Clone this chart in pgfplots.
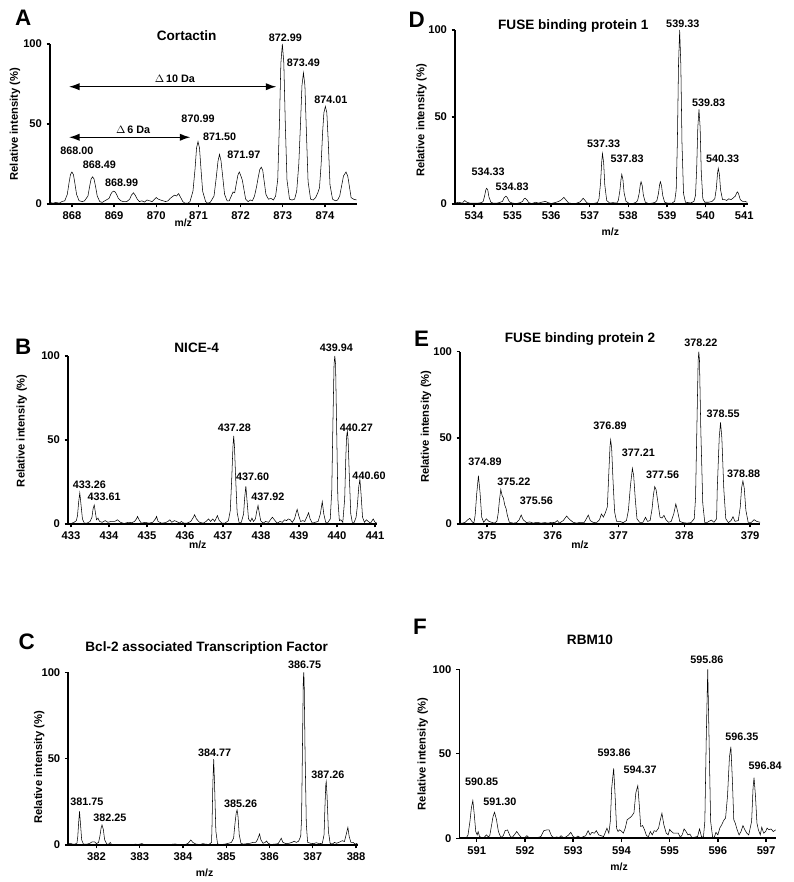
\documentclass[border=0pt]{standalone}
\usepackage{fontspec}
\setmainfont{Liberation Sans}
\usepackage{pgfplots}
\pgfplotsset{compat=1.18}
\usetikzlibrary{arrows.meta}
\pgfplotsset{
  spec/.style={
    scale only axis, anchor=south west,
    axis lines*=left, axis line style={line width=1.2pt},
    tick align=outside, tick pos=left, major tick length=2.5pt,
    tick style={line width=1pt, black},
    ymin=0, ymax=100, ytick={0,50,100},
    tick label style={font=\fontsize{8.4}{9}\selectfont\bfseries},
    /pgf/number format/assume math mode=true,
    ylabel={Relative intensity (\%)}, xlabel={m/z},
    ylabel style={font=\fontsize{8.4}{9}\selectfont\bfseries, anchor=center},
    xlabel style={font=\fontsize{7.8}{8}\selectfont\bfseries, anchor=center},
    clip=false,
    cycle list={{black, line width=1.1pt, mark=none, line join=round}},
  },
}
\tikzset{pl/.style={font=\fontsize{8.1}{9}\selectfont\bfseries, inner sep=0pt},
  ttl/.style={font=\fontsize{10.2}{11}\selectfont\bfseries, inner sep=0pt},
  let/.style={font=\fontsize{16.8}{17}\selectfont\bfseries, inner sep=0pt}}
\newcommand\PX[2]{({#1*0.75pt},{(882-#2)*0.75pt})}
\begin{document}
\begin{tikzpicture}
\useasboundingbox (0,0) rectangle (594.75pt,661.5pt);
% ---------------- A
\begin{axis}[spec, at={(37.5pt,508.5pt)}, width=230.25pt, height=120pt,
  xmin=867.48, xmax=874.76, xtick={868,869,870,871,872,873,874},
  ylabel style={at={(axis description cs:-0.114,0.5)}},
  xlabel style={at={(axis description cs:0.434,0)}, yshift=-14.25pt}]
\addplot coordinates {(867.48,1) (867.55,0.5) (867.62,1) (867.7,0.5) (867.76,1.5) (867.83,2)
(867.89,6) (867.93,13) (867.965,18.4) (868.0,20) (868.035,18.4) (868.07,13) (868.11,6) (868.17,2)
(868.25,1.5) (868.3,2) (868.38,5) (868.42,11) (868.455,15.6) (868.49,17) (868.525,15.6) (868.56,11) (868.6,5) (868.66,1.5)
(868.72,1) (868.78,2) (868.88,3.5) (868.92,6) (868.955,7.5) (868.99,8) (869.025,7.5) (869.06,6) (869.1,3.5) (869.16,2)
(869.22,1.5) (869.3,1.5) (869.37,3) (869.41,5.5) (869.46,7) (869.5,5.5) (869.55,3) (869.6,1.5)
(869.66,2) (869.72,1.2) (869.78,2.5) (869.84,2) (869.9,1.5) (869.96,3) (870.0,4) (870.05,3) (870.1,2.5) (870.16,2) (870.22,1.5) (870.28,2) (870.33,3.5) (870.38,4.5) (870.43,5.5) (870.48,5) (870.53,6.5) (870.58,4) (870.63,1.5) (870.68,0.5) (870.75,0.5) (870.8,1.5)
(870.87,8) (870.92,22) (870.955,35) (870.99,39) (871.025,35) (871.06,22) (871.1,8) (871.17,1.5) (871.22,0.5) (871.28,1)
(871.37,5) (871.42,16) (871.465,27) (871.5,31) (871.535,27) (871.58,16) (871.62,6) (871.68,2) (871.73,2)
(871.78,5) (871.82,7.5) (871.86,7) (871.9,13) (871.935,18) (871.97,20) (872.0,18) (872.04,15) (872.08,9) (872.12,3) (872.18,1.5) (872.23,2.5) (872.28,2) (872.33,5)
(872.38,11) (872.42,17) (872.455,21.5) (872.49,23) (872.525,21) (872.56,14) (872.6,6) (872.66,3) (872.72,3.5) (872.78,2.5) (872.83,5)
(872.88,15) (872.92,50) (872.955,88) (872.99,100) (873.025,88) (873.06,50) (873.1,15) (873.16,3) (873.22,2.5) (873.28,3) (873.33,8)
(873.38,25) (873.42,50) (873.455,74) (873.49,82) (873.525,74) (873.56,45) (873.6,14) (873.66,3) (873.72,2.5) (873.78,4) (873.83,7) (873.87,10)
(873.91,25) (873.945,45) (873.975,57) (874.01,61) (874.045,57) (874.08,38) (874.12,12) (874.18,3) (874.25,2) (874.3,2.5) (874.35,5)
(874.4,12) (874.44,17.5) (874.5,20) (874.54,17.5) (874.58,11) (874.62,4) (874.68,3) (874.75,2.5)};
\draw[line width=1pt, {Latex[length=8pt,width=5.5pt]}-{Latex[length=8pt,width=5.5pt]}] (867.93,73.3) -- (872.85,73.3);
\draw[line width=1pt, {Latex[length=8pt,width=5.5pt]}-{Latex[length=8pt,width=5.5pt]}] (867.93,41.7) -- (870.81,41.7);
\node[pl] at (870.44,78) {$\Delta$\,10 Da};
\node[pl] at (869.45,46.5) {$\Delta$\,6 Da};
\node[pl] at (868.12,33.3) {868.00};
\node[pl] at (868.65,24.4) {868.49};
\node[pl] at (869.18,13) {868.99};
\node[pl] at (870.99,53) {870.99};
\node[pl] at (871.5,41.7) {871.50};
\node[pl] at (872.08,30.8) {871.97};
\node[pl] at (873.06,104) {872.99};
\node[pl] at (873.49,88.5) {873.49};
\node[pl] at (874.14,65.4) {874.01};
\end{axis}
% ---------------- D
\begin{axis}[spec, at={(341.25pt,508.5pt)}, width=219.75pt, height=130.5pt,
  xmin=533.51, xmax=541.1, xtick={534,535,536,537,538,539,540,541},
  ylabel style={at={(axis description cs:-0.114,0.48)}},
  xlabel style={at={(axis description cs:0.53,0)}, yshift=-20.8pt}]
\addplot coordinates {(533.51,0.5) (533.6,1) (533.7,0.5) (533.76,2) (533.82,1) (533.9,0.5) (534.0,0.5) (534.1,0.5) (534.2,0.8)
(534.24,1.5) (534.28,5) (534.31,8.3) (534.33,9) (534.36,8) (534.39,4) (534.44,1)
(534.5,0.5) (534.6,0.5) (534.68,1) (534.74,1.5) (534.78,3.5) (534.83,4.5) (534.87,3.5) (534.92,1.2)
(535.0,0.5) (535.1,0.3) (535.2,0.8) (535.26,1.5) (535.3,3) (535.33,3.3) (535.37,2.5) (535.42,0.8)
(535.5,0.3) (535.6,1) (535.67,0.5) (535.75,1) (535.85,1.5) (535.92,0.8) (536.0,0.3) (536.1,0.8) (536.2,1.5)
(536.27,2.5) (536.33,3.8) (536.38,2.5) (536.45,0.6) (536.55,0.3) (536.65,0.4) (536.75,1.2)
(536.8,2.5) (536.83,3.3) (536.87,2.3) (536.93,0.6) (537.0,0.4) (537.1,0.3) (537.2,0.8)
(537.24,3) (537.28,12) (537.31,24) (537.33,29) (537.36,24) (537.39,11) (537.44,2)
(537.52,0.5) (537.6,0.8) (537.7,0.5) (537.74,2) (537.78,7.5) (537.81,14) (537.83,17) (537.86,14) (537.89,6.5) (537.94,1.5)
(538.02,0.4) (538.12,0.3) (538.2,1) (538.24,2) (538.28,6) (538.31,11) (538.33,12.8) (538.36,10.5) (538.39,5) (538.44,1)
(538.52,0.3) (538.62,0.5) (538.7,1) (538.74,2) (538.78,6) (538.81,11) (538.83,12.8) (538.86,10.5) (538.89,5) (538.94,1)
(539.02,0.5) (539.12,0.4) (539.2,1.5) (539.24,8) (539.27,35) (539.3,80) (539.33,100) (539.36,80) (539.39,35) (539.43,6) (539.48,1)
(539.55,0.8) (539.62,0.6) (539.7,1.5) (539.74,5) (539.77,20) (539.8,44) (539.83,54.4) (539.86,44) (539.89,18) (539.93,3) (539.98,1)
(540.08,1) (540.17,1.5) (540.24,3) (540.28,9) (540.31,17.5) (540.33,20.5) (540.36,17) (540.39,8) (540.44,2.5)
(540.5,2.5) (540.55,2) (540.6,3) (540.66,2.5) (540.72,3.5) (540.77,4.5) (540.81,6.5) (540.83,7) (540.86,5.5) (540.9,2.5) (540.96,1.5) (541.02,1.5) (541.08,1)};
\node[pl] at (534.37,18.6) {534.33};
\node[pl] at (534.99,10) {534.83};
\node[pl] at (537.36,34.5) {537.33};
\node[pl] at (537.97,25.9) {537.83};
\node[pl] at (539.41,103.3) {539.33};
\node[pl] at (540.08,57.9) {539.83};
\node[pl] at (540.44,25.9) {540.33};
\end{axis}
% ---------------- B
\begin{axis}[spec, at={(51pt,268.5pt)}, width=231.75pt, height=126pt,
  xmin=432.92, xmax=441.05, xtick={433,434,435,436,437,438,439,440,441},
  ylabel style={at={(axis description cs:-0.15,0.555)}},
  xlabel style={at={(axis description cs:0.42,0)}, yshift=-15.75pt}]
\addplot coordinates {(432.92,0.5) (433.0,0.3) (433.08,1) (433.14,2) (433.17,5) (433.2,13) (433.23,18.5) (433.26,12) (433.3,3) (433.35,0.5)
(433.42,0.5) (433.5,1.5) (433.55,4) (433.58,9) (433.61,11.3) (433.64,7) (433.67,2.5) (433.71,3.5) (433.75,1.5) (433.82,1) (433.9,2) (433.97,1) (434.05,1.5) (434.15,1.5) (434.22,2.5) (434.3,1) (434.4,0.3) (434.5,1) (434.6,0.8) (434.67,1.5)
(434.72,3) (434.75,4.5) (434.79,2.5) (434.85,0.5) (434.95,1) (435.05,0.5) (435.15,1)
(435.22,3) (435.25,4.5) (435.29,1.5) (435.38,0.5) (435.48,0.8) (435.55,1.5) (435.6,2.5) (435.65,1) (435.72,2) (435.78,1.5) (435.85,0.5) (435.9,1.5) (435.97,0.5) (436.05,0.5) (436.15,1.5)
(436.22,4) (436.25,5.5) (436.3,3) (436.38,1) (436.48,0.5) (436.55,1.5) (436.62,3) (436.67,1.5) (436.73,3) (436.78,1.5) (436.85,5) (436.9,2) (436.97,0.5) (437.05,0.5) (437.14,2)
(437.19,8) (437.23,28) (437.26,46) (437.28,52.4) (437.3,46) (437.33,28) (437.37,7) (437.42,1) (437.48,1)
(437.54,6) (437.57,16) (437.6,22.6) (437.63,14) (437.67,3) (437.72,1.5) (437.76,3.5) (437.8,1.5) (437.85,3)
(437.89,8) (437.92,11) (437.95,7) (437.99,2) (438.05,0.5) (438.12,1.5) (438.2,1) (438.26,3) (438.3,4) (438.35,2.5) (438.42,0.5) (438.5,1.5) (438.56,1) (438.62,2.5) (438.67,2) (438.72,3) (438.77,2.5) (438.82,1) (438.88,3)
(438.92,6.5) (438.95,8.7) (438.99,5) (439.04,1.5) (439.1,2) (439.15,1.5) (439.2,4) (439.25,6.7) (439.29,3) (439.35,0.5) (439.42,1) (439.5,1.5) (439.56,6)
(439.61,13.3) (439.65,6) (439.7,1) (439.76,1) (439.82,3)
(439.86,20) (439.89,60) (439.92,95) (439.94,100) (439.96,95) (439.99,55) (440.02,15) (440.06,2) (440.1,2.5) (440.15,1)
(440.2,15) (440.23,40) (440.25,52) (440.27,55.4) (440.29,50) (440.32,30) (440.36,6) (440.4,1) (440.45,1) (440.5,4)
(440.53,10) (440.57,22) (440.6,26.6) (440.63,18) (440.67,4) (440.72,1) (440.77,2.5) (440.82,1.5) (440.88,0.5) (440.95,3) (441.0,1) (441.05,0.5)};
\node[pl] at (433.48,23.2) {433.26};
\node[pl] at (433.87,16.3) {433.61};
\node[pl] at (437.30,57) {437.28};
\node[pl] at (437.78,28.2) {437.60};
\node[pl] at (438.18,16.3) {437.92};
\node[pl] at (439.98,105) {439.94};
\node[pl] at (440.51,57.5) {440.27};
\node[pl] at (440.84,28.6) {440.60};
\end{axis}
% ---------------- E
\begin{axis}[spec, at={(345pt,268.5pt)}, width=225pt, height=129.2pt,
  xmin=374.59, xmax=379.15, xtick={375,376,377,378,379},
  ylabel style={at={(axis description cs:-0.113,0.565)}},
  xlabel style={at={(axis description cs:0.4,0)}, yshift=-15.75pt}]
\addplot coordinates {(374.59,0.5) (374.63,0.5) (374.67,1) (374.71,2.5) (374.74,3.3) (374.77,1.5) (374.8,0.3)
(374.82,5) (374.845,18) (374.87,28) (374.895,18) (374.92,4) (374.95,1) (374.99,3) (375.03,1.5) (375.07,1) (375.11,0.5) (375.15,1.5)
(375.17,6) (375.19,14) (375.21,20) (375.23,16.5) (375.25,15) (375.27,11) (375.29,9) (375.31,5) (375.34,1) (375.4,0.5) (375.45,0.8) (375.49,2.5)
(375.52,5.2) (375.55,2.5) (375.6,0.8) (375.65,1.2) (375.7,0.5) (375.76,1) (375.82,0.5) (375.88,0.8) (375.93,0.5) (375.98,1) (376.03,0.8) (376.07,2) (376.1,0.5) (376.16,2) (376.21,4.6) (376.26,2.5) (376.31,1) (376.36,0.5) (376.42,1) (376.48,1) (376.51,3) (376.54,5.2) (376.57,2) (376.62,0.8) (376.67,1) (376.71,2.5) (376.74,5.8) (376.77,4) (376.8,6.6) (376.83,10)
(376.85,28) (376.87,45) (376.88,48.8) (376.895,44) (376.915,26) (376.94,7) (376.97,1.5) (377.02,1.5) (377.07,0.8) (377.12,2)
(377.15,8) (377.18,22) (377.21,32.3) (377.23,28) (377.255,14) (377.28,3) (377.32,1) (377.37,1) (377.41,3.9) (377.44,1.5) (377.48,2)
(377.51,9) (377.53,17) (377.55,21.7) (377.57,20) (377.6,12) (377.63,4) (377.66,3.5) (377.69,5) (377.72,2.5) (377.76,1) (377.8,1.5) (377.84,6)
(377.87,11.6) (377.9,7) (377.93,1.5) (377.98,0.8) (378.04,0.5) (378.1,0.8) (378.15,3)
(378.17,15) (378.19,55) (378.21,95) (378.22,100) (378.23,95) (378.25,55) (378.28,12) (378.31,1) (378.35,1) (378.41,2.3) (378.45,1) (378.49,3)
(378.5,20) (378.53,50) (378.55,59) (378.57,50) (378.6,20) (378.63,3) (378.67,0.8) (378.71,2) (378.74,4.2) (378.77,1.5) (378.82,2)
(378.85,10) (378.87,21) (378.89,25) (378.91,21) (378.935,8) (378.97,1) (379.02,1) (379.06,2.5) (379.1,1.5) (379.15,1)};
\node[pl] at (374.97,36.2) {374.89};
\node[pl] at (375.41,24.6) {375.22};
\node[pl] at (375.75,13.5) {375.56};
\node[pl] at (376.87,56.9) {376.89};
\node[pl] at (377.30,41.4) {377.21};
\node[pl] at (377.67,28.8) {377.56};
\node[pl] at (378.25,104.9) {378.22};
\node[pl] at (378.59,64.2) {378.55};
\node[pl] at (378.9,29.4) {378.88};
\end{axis}
% ---------------- C
\begin{axis}[spec, at={(51.2pt,27.75pt)}, width=217.5pt, height=129.5pt,
  xmin=381.35, xmax=388.05, xtick={382,383,384,385,386,387,388},
  ylabel style={at={(axis description cs:-0.1,0.45)}},
  xlabel style={at={(axis description cs:0.47,0)}, yshift=-21pt}]
\addplot coordinates {(381.35,0.5) (381.4,1) (381.45,0.5) (381.5,0.5) (381.55,1)
(381.57,5) (381.59,13) (381.61,19.5) (381.63,13) (381.66,3) (381.7,0.5) (381.78,0.5) (381.85,1) (381.9,1.8) (381.96,1.8) (382.0,0.8) (382.05,1.5)
(382.08,5) (382.11,10) (382.13,11.6) (382.16,9) (382.19,3) (382.24,0.5) (382.28,0.5) (382.32,1.5) (382.35,0.3) (382.45,0.2) (382.55,0.2) (382.7,0.2) (382.85,0.3) (382.9,0.5) (382.96,0.3) (383.05,0.8) (383.1,0.3) (383.2,0.2) (383.35,0.2) (383.45,0.4) (383.55,0.2) (383.7,0.3) (383.82,0.6) (383.9,0.2) (384.05,0.2) (384.12,1) (384.18,2.9) (384.23,1.5) (384.3,0.5) (384.4,0.3) (384.46,0.8) (384.52,0.5) (384.6,0.3) (384.66,1.5)
(384.67,10) (384.69,35) (384.71,49.8) (384.73,35) (384.76,8) (384.8,0.5) (384.88,0.3) (384.97,0.5) (385.05,1) (385.12,1.5) (385.17,4)
(385.2,12) (385.23,18.5) (385.25,20.3) (385.27,17) (385.3,6) (385.34,1) (385.4,0.5) (385.48,0.8) (385.55,1) (385.62,1.5) (385.68,1.5) (385.72,3) (385.77,6.4) (385.8,3) (385.85,1) (385.9,1.5) (385.93,2.3) (385.97,1) (386.03,0.3) (386.12,0.5) (386.2,0.8) (386.24,2.5) (386.27,3.9) (386.31,1.5) (386.38,0.8) (386.45,1) (386.52,1.5) (386.57,2.2) (386.62,1.5) (386.67,2.2) (386.72,5)
(386.74,15) (386.76,55) (386.78,95) (386.79,100) (386.8,95) (386.82,55) (386.85,12) (386.88,1.5) (386.95,1) (387.02,0.8) (387.08,1.3) (387.15,0.8) (387.22,1)
(387.26,6) (387.28,22) (387.3,35) (387.31,36.7) (387.33,28) (387.36,8) (387.4,1) (387.45,0.5) (387.5,1.5) (387.55,1) (387.6,1.5) (387.68,2.5) (387.73,2) (387.77,6)
(387.81,10.2) (387.84,5) (387.88,1.5) (387.93,1.5) (387.98,0.5) (388.03,1)};
\node[pl] at (381.78,25.1) {381.75};
\node[pl] at (382.31,16) {382.25};
\node[pl] at (384.73,53.5) {384.77};
\node[pl] at (385.33,24.1) {385.26};
\node[pl] at (386.81,104.6) {386.75};
\node[pl] at (387.35,40.5) {387.26};
\end{axis}
% ---------------- F
\begin{axis}[spec, at={(344.5pt,32.8pt)}, width=237.3pt, height=126.75pt,
  xmin=590.64, xmax=597.2, xtick={591,592,593,594,595,596,597},
  ylabel style={at={(axis description cs:-0.116,0.5)}},
  xlabel style={at={(axis description cs:0.505,0)}, yshift=-21.75pt}]
\addplot coordinates {(590.64,0) (590.7,0) (590.78,0) (590.82,2) (590.86,10) (590.89,18) (590.92,22.3) (590.95,14) (590.98,4) (591.01,2) (591.03,3.9) (591.06,1) (591.1,0.5) (591.15,0.3) (591.2,2) (591.24,0.8) (591.27,1.5) (591.31,8) (591.34,13) (591.37,15.4) (591.41,11) (591.45,4) (591.5,0.5) (591.55,1.5) (591.59,4.5) (591.64,4.9) (591.69,1.5) (591.73,0.3) (591.78,2) (591.83,4) (591.88,2) (591.93,0.3) (592.0,0.5) (592.04,1.5) (592.09,0.3) (592.15,0.5) (592.2,0.2) (592.27,0.5) (592.33,1) (592.39,4.5) (592.45,4.9) (592.5,5) (592.55,1.5) (592.6,0.3) (592.66,0.8) (592.7,0.2) (592.75,1.5) (592.8,0.3) (592.85,0.8) (592.9,1.8) (592.95,3.5) (593.0,1) (593.05,0.3) (593.1,1.3) (593.15,0.3) (593.2,0.8) (593.26,1.5) (593.31,4.5) (593.35,2) (593.39,3.5) (593.44,3) (593.48,4.5) (593.53,2) (593.58,1.5) (593.63,1) (593.66,3) (593.7,6) (593.74,3) (593.77,10) (593.8,30) (593.84,41.4) (593.87,25) (593.9,6) (593.93,4) (593.96,5) (594.0,4.2) (594.04,3) (594.08,6) (594.12,11) (594.17,12) (594.21,13) (594.26,15) (594.3,27) (594.34,31.1) (594.37,20) (594.4,7) (594.44,7.5) (594.48,5) (594.52,1.5) (594.56,1) (594.6,4) (594.64,2) (594.68,4.5) (594.72,4) (594.77,6) (594.8,10) (594.84,14.8) (594.88,8) (594.93,3) (594.97,2) (595.0,5.2) (595.04,4) (595.08,3) (595.13,3) (595.18,3) (595.22,0.5) (595.26,2) (595.3,5.5) (595.34,4) (595.38,2) (595.42,2.5) (595.46,0.5) (595.5,0.5) (595.54,0.8) (595.58,1) (595.62,5.5) (595.66,1) (595.7,0.5) (595.73,10) (595.76,60) (595.79,100) (595.82,55) (595.85,10) (595.89,1) (595.92,0) (595.96,3.5) (596.0,2) (596.04,6) (596.08,8) (596.12,10.5) (596.16,12) (596.2,25) (596.24,48) (596.27,54.2) (596.3,35) (596.33,11) (596.36,9) (596.4,5) (596.44,2) (596.48,4) (596.52,7.5) (596.56,5) (596.6,3) (596.64,2) (596.67,6) (596.7,10) (596.73,30) (596.75,35.9) (596.78,25) (596.81,9) (596.84,5) (596.88,2) (596.91,6.5) (596.95,3) (596.99,4) (597.02,6) (597.06,5) (597.1,5.5) (597.15,4) (597.2,5)};
\node[pl] at (591.10,33.5) {590.85};
\node[pl] at (591.48,21.7) {591.30};
\node[pl] at (593.85,50.7) {593.86};
\node[pl] at (594.39,40.4) {594.37};
\node[pl] at (595.77,105.5) {595.86};
\node[pl] at (596.5,60.1) {596.35};
\node[pl] at (596.98,42.8) {596.84};
\end{axis}
% ---------------- letters and titles
\node[let] at \PX{23.3}{18.3} {A};
\node[let] at \PX{23.3}{346.7} {B};
\node[let] at \PX{26.7}{641.7} {C};
\node[let] at \PX{416.7}{20} {D};
\node[let] at \PX{421.7}{339.3} {E};
\node[let] at \PX{420}{626.7} {F};
\node[ttl] at \PX{186.7}{36} {Cortactin};
\node[ttl] at \PX{573.3}{26} {FUSE binding protein 1};
\node[ttl] at \PX{196.7}{348.3} {NICE-4};
\node[ttl] at \PX{580}{339.3} {FUSE binding protein 2};
\node[ttl] at \PX{206.7}{647.7} {Bcl-2 associated Transcription Factor};
\node[ttl] at \PX{590}{640} {RBM10};
\end{tikzpicture}
\end{document}
